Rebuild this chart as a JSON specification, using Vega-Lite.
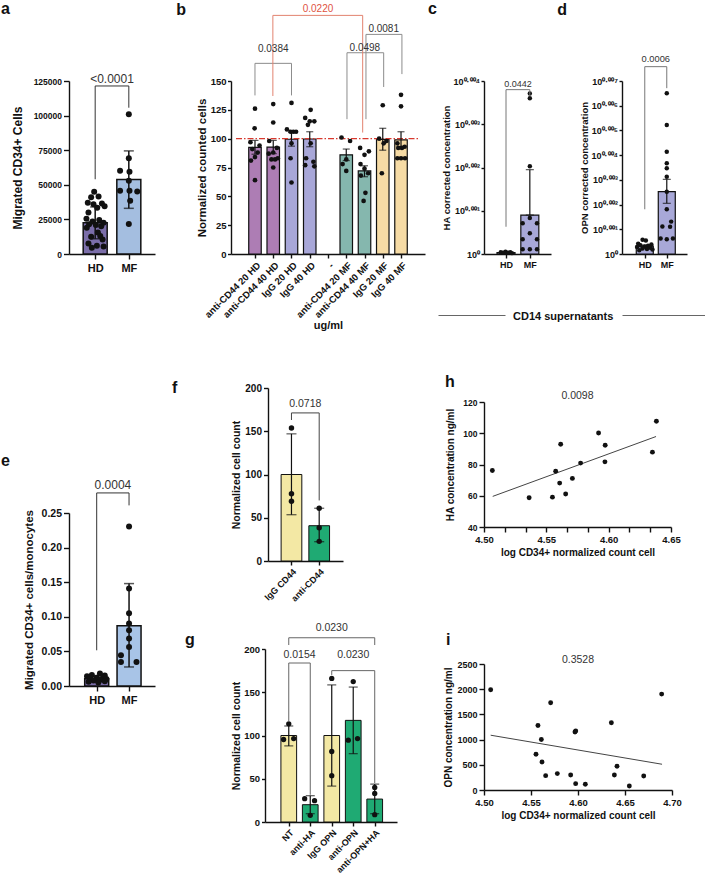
{
  "$schema": "https://vega.github.io/schema/vega-lite/v6.json",
  "padding": {"left": 1, "top": 0, "right": 0, "bottom": 0},
  "columns": 6,
  "spacing": 0,
  "align": "each",
  "bounds": "flush",
  "resolve": {"scale": {"fill": "independent"}},
  "config": {
    "view": {"stroke": null},
    "font": "Liberation Sans",
    "axis": {
      "domainColor": "#111", "domainWidth": 1.4, "tickColor": "#111", "tickWidth": 1.4, "tickSize": 4,
      "labelColor": "#111", "labelFont": "Liberation Sans", "labelFontWeight": "bold", "labelPadding": 2,
      "labelFlush": false, "labelOverlap": false,
      "titleFont": "Liberation Sans", "titleFontWeight": "bold", "titleColor": "#111", "grid": false
    },
    "title": {"font": "Liberation Sans", "fontWeight": "bold", "color": "#111"},
    "text": {"font": "Liberation Sans"}
  },
  "concat": [
    {
      "width": 86, "height": 173,
      "data": {"values": [
        {"kind": "bar", "grp": "HD", "pos": 1, "v": 22500},
        {"kind": "bar", "grp": "MF", "pos": 2, "v": 53800},
        {"kind": "err", "pos": 1, "v": 11000, "v2": 34000},
        {"kind": "err", "pos": 2, "v": 33000, "v2": 74500},
        {"kind": "pt", "pos": 0.97, "v": 45000}, {"kind": "pt", "pos": 0.88, "v": 41000}, {"kind": "pt", "pos": 1.1, "v": 41500},
        {"kind": "pt", "pos": 0.78, "v": 37000}, {"kind": "pt", "pos": 1.2, "v": 36500}, {"kind": "pt", "pos": 0.95, "v": 36000},
        {"kind": "pt", "pos": 1.28, "v": 34500}, {"kind": "pt", "pos": 1.06, "v": 33500}, {"kind": "pt", "pos": 0.8, "v": 30000},
        {"kind": "pt", "pos": 0.74, "v": 25500}, {"kind": "pt", "pos": 1.12, "v": 24500}, {"kind": "pt", "pos": 0.92, "v": 23500},
        {"kind": "pt", "pos": 1.25, "v": 22500}, {"kind": "pt", "pos": 0.82, "v": 21500}, {"kind": "pt", "pos": 1.02, "v": 21000},
        {"kind": "pt", "pos": 1.18, "v": 20000}, {"kind": "pt", "pos": 0.75, "v": 19000}, {"kind": "pt", "pos": 1.08, "v": 15500},
        {"kind": "pt", "pos": 0.88, "v": 12500}, {"kind": "pt", "pos": 1.22, "v": 10500}, {"kind": "pt", "pos": 0.8, "v": 7500},
        {"kind": "pt", "pos": 1.05, "v": 6000}, {"kind": "pt", "pos": 1.25, "v": 5500}, {"kind": "pt", "pos": 0.9, "v": 4500},
        {"kind": "pt", "pos": 1.15, "v": 13000},
        {"kind": "pt", "pos": 2, "v": 101000}, {"kind": "pt", "pos": 2, "v": 69200}, {"kind": "pt", "pos": 1.74, "v": 60100},
        {"kind": "pt", "pos": 2.02, "v": 59400}, {"kind": "pt", "pos": 1.74, "v": 45700}, {"kind": "pt", "pos": 2.02, "v": 45700},
        {"kind": "pt", "pos": 2.25, "v": 45200}, {"kind": "pt", "pos": 2, "v": 52900}, {"kind": "pt", "pos": 2.04, "v": 38500},
        {"kind": "pt", "pos": 2, "v": 21600},
        {"kind": "br", "id": "p", "k": 0, "pos": 1, "v": 54000},
        {"kind": "br", "id": "p", "k": 1, "pos": 1, "v": 121400},
        {"kind": "br", "id": "p", "k": 2, "pos": 2, "v": 121400},
        {"kind": "br", "id": "p", "k": 3, "pos": 2, "v": 105700},
        {"kind": "lbl", "pos": 1.5, "v": 123900, "txt": "<0.0001"}
      ]},
      "encoding": {
        "x": {"field": "pos", "type": "quantitative", "scale": {"domain": [0.37, 2.63], "nice": false, "zero": false},
              "axis": {"values": [1, 2], "labelExpr": "datum.value == 1 ? 'HD' : 'MF'", "title": null, "labelFontSize": 11, "tickSize": 5, "labelPadding": 3}},
        "y": {"field": "v", "type": "quantitative", "stack": null, "scale": {"domain": [0, 125000], "nice": false},
              "axis": {"values": [0, 25000, 50000, 75000, 100000, 125000], "format": "d", "title": "Migrated CD34+ Cells", "titleFontSize": 12, "titlePadding": 9, "labelFontSize": 8.5, "tickSize": 5.5}}
      },
      "layer": [
        {"transform": [{"filter": "datum.kind == 'bar'"}], "mark": {"type": "bar", "orient": "vertical", "width": 24, "stroke": "#111", "strokeWidth": 1.5},
         "encoding": {"fill": {"field": "grp", "type": "nominal", "scale": {"domain": ["HD", "MF"], "range": ["#7b6ea9", "#a4bee0"]}, "legend": null}}},
        {"transform": [{"filter": "datum.kind == 'err'"}], "mark": {"type": "errorbar", "ticks": {"size": 10, "thickness": 1.5, "color": "#111"}, "rule": {"strokeWidth": 1.5, "color": "#111"}},
         "encoding": {"y2": {"field": "v2"}}},
        {"transform": [{"filter": "datum.kind == 'pt'"}], "mark": {"type": "circle", "size": 36, "color": "#111", "opacity": 1}},
        {"transform": [{"filter": "datum.kind == 'br'"}], "mark": {"type": "line", "color": "#333", "strokeWidth": 1},
         "encoding": {"detail": {"field": "id", "type": "nominal"}, "order": {"field": "k", "type": "quantitative"}}},
        {"transform": [{"filter": "datum.kind == 'lbl'"}], "mark": {"type": "text", "fontSize": 12, "color": "#333", "baseline": "alphabetic"},
         "encoding": {"text": {"field": "txt", "type": "nominal"}}}
      ]
    },
    {"width": 76, "height": 1, "data": {"values": []}, "mark": "text",
     "title": {"text": "a", "anchor": "start", "frame": "group", "offset": 0, "dx": -154, "dy": -51.5, "baseline": "alphabetic", "fontSize": 16}},
    {
      "width": 194, "height": 173,
      "data": {"values": [
        {"kind": "bar", "grp": "aHD", "pos": 1, "v": 92.5}, {"kind": "bar", "grp": "aHD", "pos": 2, "v": 92.7},
        {"kind": "bar", "grp": "iHD", "pos": 3, "v": 99.5}, {"kind": "bar", "grp": "iHD", "pos": 4, "v": 99.7},
        {"kind": "bar", "grp": "aMF", "pos": 6, "v": 86}, {"kind": "bar", "grp": "aMF", "pos": 7, "v": 72},
        {"kind": "bar", "grp": "iMF", "pos": 8, "v": 99.3}, {"kind": "bar", "grp": "iMF", "pos": 9, "v": 99},
        {"kind": "err", "pos": 1, "v": 86.5, "v2": 98.5}, {"kind": "err", "pos": 2, "v": 87, "v2": 98.5},
        {"kind": "err", "pos": 3, "v": 93.5, "v2": 105.5}, {"kind": "err", "pos": 4, "v": 93, "v2": 106},
        {"kind": "err", "pos": 6, "v": 81, "v2": 91}, {"kind": "err", "pos": 7, "v": 67, "v2": 76.5},
        {"kind": "err", "pos": 8, "v": 90, "v2": 109}, {"kind": "err", "pos": 9, "v": 93, "v2": 106},
        {"kind": "ref", "pos": -0.04, "p2": 10.04, "v": 100},
        {"kind": "pt", "pos": 1.0, "v": 126}, {"kind": "pt", "pos": 0.98, "v": 109}, {"kind": "pt", "pos": 0.75, "v": 97},
        {"kind": "pt", "pos": 1.25, "v": 94}, {"kind": "pt", "pos": 0.85, "v": 91}, {"kind": "pt", "pos": 1.15, "v": 88},
        {"kind": "pt", "pos": 1.0, "v": 84}, {"kind": "pt", "pos": 0.78, "v": 81}, {"kind": "pt", "pos": 1.0, "v": 64},
        {"kind": "pt", "pos": 2.0, "v": 130}, {"kind": "pt", "pos": 2.0, "v": 114}, {"kind": "pt", "pos": 1.78, "v": 98},
        {"kind": "pt", "pos": 2.2, "v": 92}, {"kind": "pt", "pos": 2.0, "v": 88}, {"kind": "pt", "pos": 1.75, "v": 87},
        {"kind": "pt", "pos": 2.25, "v": 83}, {"kind": "pt", "pos": 1.9, "v": 82}, {"kind": "pt", "pos": 2.1, "v": 82},
        {"kind": "pt", "pos": 2.0, "v": 75},
        {"kind": "pt", "pos": 3.0, "v": 131}, {"kind": "pt", "pos": 2.75, "v": 108}, {"kind": "pt", "pos": 2.95, "v": 106},
        {"kind": "pt", "pos": 3.1, "v": 106}, {"kind": "pt", "pos": 3.25, "v": 106}, {"kind": "pt", "pos": 3.0, "v": 96},
        {"kind": "pt", "pos": 2.95, "v": 83}, {"kind": "pt", "pos": 3.0, "v": 62},
        {"kind": "pt", "pos": 4.05, "v": 125}, {"kind": "pt", "pos": 3.75, "v": 118}, {"kind": "pt", "pos": 4.0, "v": 115},
        {"kind": "pt", "pos": 4.25, "v": 115}, {"kind": "pt", "pos": 3.9, "v": 112}, {"kind": "pt", "pos": 4.05, "v": 96},
        {"kind": "pt", "pos": 3.8, "v": 83}, {"kind": "pt", "pos": 4.2, "v": 80}, {"kind": "pt", "pos": 3.75, "v": 77},
        {"kind": "pt", "pos": 4.25, "v": 76},
        {"kind": "pt", "pos": 5.74, "v": 101}, {"kind": "pt", "pos": 6.21, "v": 98}, {"kind": "pt", "pos": 6.0, "v": 82},
        {"kind": "pt", "pos": 5.8, "v": 78}, {"kind": "pt", "pos": 6.0, "v": 72},
        {"kind": "pt", "pos": 6.76, "v": 92}, {"kind": "pt", "pos": 7.24, "v": 89}, {"kind": "pt", "pos": 7.0, "v": 86},
        {"kind": "pt", "pos": 6.78, "v": 78}, {"kind": "pt", "pos": 7.0, "v": 74}, {"kind": "pt", "pos": 7.2, "v": 70},
        {"kind": "pt", "pos": 6.8, "v": 68}, {"kind": "pt", "pos": 7.05, "v": 53}, {"kind": "pt", "pos": 6.95, "v": 46},
        {"kind": "pt", "pos": 8.0, "v": 129}, {"kind": "pt", "pos": 7.8, "v": 100}, {"kind": "pt", "pos": 8.2, "v": 98},
        {"kind": "pt", "pos": 8.05, "v": 96}, {"kind": "pt", "pos": 7.95, "v": 70},
        {"kind": "pt", "pos": 9.0, "v": 138}, {"kind": "pt", "pos": 9.0, "v": 128}, {"kind": "pt", "pos": 8.8, "v": 96},
        {"kind": "pt", "pos": 9.2, "v": 93}, {"kind": "pt", "pos": 9.05, "v": 92}, {"kind": "pt", "pos": 8.85, "v": 92},
        {"kind": "pt", "pos": 8.8, "v": 83}, {"kind": "pt", "pos": 9.0, "v": 83}, {"kind": "pt", "pos": 9.22, "v": 83},
        {"kind": "br", "id": "q1", "k": 0, "pos": 1, "v": 137.5}, {"kind": "br", "id": "q1", "k": 1, "pos": 1, "v": 165.3},
        {"kind": "br", "id": "q1", "k": 2, "pos": 3, "v": 165.3}, {"kind": "br", "id": "q1", "k": 3, "pos": 3, "v": 137.5},
        {"kind": "br", "id": "q3", "k": 0, "pos": 6.04, "v": 116.9}, {"kind": "br", "id": "q3", "k": 1, "pos": 6.04, "v": 174.5},
        {"kind": "br", "id": "q3", "k": 2, "pos": 8.05, "v": 174.5}, {"kind": "br", "id": "q3", "k": 3, "pos": 8.05, "v": 144.8},
        {"kind": "br", "id": "q4", "k": 0, "pos": 7.08, "v": 116.9}, {"kind": "br", "id": "q4", "k": 1, "pos": 7.08, "v": 190.4},
        {"kind": "br", "id": "q4", "k": 2, "pos": 9.05, "v": 190.4}, {"kind": "br", "id": "q4", "k": 3, "pos": 9.05, "v": 156},
        {"kind": "brr", "id": "q2", "k": 0, "pos": 1.98, "v": 137}, {"kind": "brr", "id": "q2", "k": 1, "pos": 1.98, "v": 206.9},
        {"kind": "brr", "id": "q2", "k": 2, "pos": 6.9, "v": 206.9}, {"kind": "brr", "id": "q2", "k": 3, "pos": 6.9, "v": 105.3},
        {"kind": "lbl", "pos": 2, "v": 175.5, "txt": "0.0384"},
        {"kind": "lbl", "pos": 7.02, "v": 176, "txt": "0.0498"},
        {"kind": "lbl", "pos": 8.05, "v": 192.4, "txt": "0.0081"},
        {"kind": "lblr", "pos": 4.45, "v": 209.7, "txt": "0.0220"}
      ]},
      "encoding": {
        "x": {"field": "pos", "type": "quantitative", "scale": {"domain": [-0.04, 10.04], "nice": false, "zero": false},
              "axis": {"values": [1, 2, 3, 4, 5, 6, 7, 8, 9],
                       "labelExpr": "['', 'anti-CD44 20 HD', 'anti-CD44 40 HD', 'IgG 20 HD', 'IgG 40 HD', '-', 'anti-CD44 20 MF', 'anti-CD44 40 MF', 'IgG 20 MF', 'IgG 40 MF'][datum.value]",
                       "labelAngle": -45, "labelFontSize": 9.5, "title": "ug/ml", "titleFontSize": 11, "titlePadding": 1, "tickSize": 4}},
        "y": {"field": "v", "type": "quantitative", "stack": null, "scale": {"domain": [0, 150], "nice": false},
              "axis": {"values": [0, 25, 50, 75, 100, 125, 150], "title": "Normalized counted cells", "titleFontSize": 11.5, "titlePadding": 3, "labelFontSize": 9.5, "tickSize": 3.5, "labelPadding": 1.5}}
      },
      "layer": [
        {"transform": [{"filter": "datum.kind == 'bar'"}], "mark": {"type": "bar", "orient": "vertical", "width": 12.5, "stroke": "#111", "strokeWidth": 1.2},
         "encoding": {"fill": {"field": "grp", "type": "nominal", "scale": {"domain": ["aHD", "iHD", "aMF", "iMF"], "range": ["#ad7db4", "#a8a7d8", "#85b7ae", "#f6dba5"]}, "legend": null}}},
        {"transform": [{"filter": "datum.kind == 'ref'"}], "mark": {"type": "rule", "color": "#d8392e", "strokeWidth": 1.3, "strokeDash": [6, 2, 1.5, 2]},
         "encoding": {"x2": {"field": "p2"}}},
        {"transform": [{"filter": "datum.kind == 'err'"}], "mark": {"type": "errorbar", "ticks": {"size": 7, "thickness": 1.2, "color": "#111"}, "rule": {"strokeWidth": 1.2, "color": "#111"}},
         "encoding": {"y2": {"field": "v2"}}},
        {"transform": [{"filter": "datum.kind == 'pt'"}], "mark": {"type": "circle", "size": 22, "color": "#111", "opacity": 1}},
        {"transform": [{"filter": "datum.kind == 'br'"}], "mark": {"type": "line", "color": "#8c8c8c", "strokeWidth": 1},
         "encoding": {"detail": {"field": "id", "type": "nominal"}, "order": {"field": "k", "type": "quantitative"}}},
        {"transform": [{"filter": "datum.kind == 'brr'"}], "mark": {"type": "line", "color": "#e2826f", "strokeWidth": 1},
         "encoding": {"detail": {"field": "id", "type": "nominal"}, "order": {"field": "k", "type": "quantitative"}}},
        {"transform": [{"filter": "datum.kind == 'lbl'"}], "mark": {"type": "text", "fontSize": 10, "color": "#333", "baseline": "alphabetic"},
         "encoding": {"text": {"field": "txt", "type": "nominal"}}},
        {"transform": [{"filter": "datum.kind == 'lblr'"}], "mark": {"type": "text", "fontSize": 10, "color": "#e0523f", "baseline": "alphabetic"},
         "encoding": {"text": {"field": "txt", "type": "nominal"}}}
      ]
    },
    {"width": 59, "height": 1, "data": {"values": []}, "mark": "text",
     "title": {"text": "b", "anchor": "start", "frame": "group", "offset": 0, "dx": -248.7, "dy": -50, "baseline": "alphabetic", "fontSize": 16}},
    {
      "width": 67, "height": 173,
      "data": {"values": [
        {"kind": "bar", "grp": "HD", "pos": 1, "v": 0.00003},
        {"kind": "bar", "grp": "MF", "pos": 2, "v": 0.0009},
        {"kind": "err", "pos": 2, "v": 0.0009, "v2": 0.00195},
        {"kind": "pt", "pos": 0.78, "v": 0.00004}, {"kind": "pt", "pos": 0.88, "v": 0.00003}, {"kind": "pt", "pos": 0.98, "v": 0.00005},
        {"kind": "pt", "pos": 1.08, "v": 0.00003}, {"kind": "pt", "pos": 1.18, "v": 0.00004}, {"kind": "pt", "pos": 1.25, "v": 0.00002},
        {"kind": "pt", "pos": 2, "v": 0.00371}, {"kind": "pt", "pos": 2, "v": 0.0036}, {"kind": "pt", "pos": 2, "v": 0.00203},
        {"kind": "pt", "pos": 2, "v": 0.00083}, {"kind": "pt", "pos": 1.7, "v": 0.00071}, {"kind": "pt", "pos": 2.3, "v": 0.00071},
        {"kind": "pt", "pos": 2, "v": 0.00048}, {"kind": "pt", "pos": 1.7, "v": 0.00034}, {"kind": "pt", "pos": 2.3, "v": 0.00034},
        {"kind": "pt", "pos": 1.7, "v": 0.00011}, {"kind": "pt", "pos": 2, "v": 0.00011}, {"kind": "pt", "pos": 2.3, "v": 0.00011},
        {"kind": "br", "id": "c1", "k": 0, "pos": 1, "v": 0.00063}, {"kind": "br", "id": "c1", "k": 1, "pos": 1, "v": 0.0038},
        {"kind": "br", "id": "c1", "k": 2, "pos": 2, "v": 0.0038}, {"kind": "br", "id": "c1", "k": 3, "pos": 2, "v": 0.00365},
        {"kind": "lbl", "pos": 1.5, "v": 0.00387, "txt": "0.0442"}
      ]},
      "encoding": {
        "x": {"field": "pos", "type": "quantitative", "scale": {"domain": [0.286, 2.679], "nice": false, "zero": false},
              "axis": {"values": [1, 2], "labelExpr": "datum.value == 1 ? 'HD' : 'MF'", "title": null, "labelFontSize": 9, "tickSize": 4}},
        "y": {"field": "v", "type": "quantitative", "stack": null, "scale": {"domain": [0, 0.004], "nice": false},
              "axis": {"values": [0, 0.001, 0.002, 0.003, 0.004],
                       "labelExpr": "datum.value == 0 ? '10⁰' : '10⁰·⁰⁰' + ['⁰','¹','²','³','⁴','⁵','⁶','⁷','⁸','⁹'][round(datum.value * 1000)]",
                       "title": "HA corrected concentration", "titleFontSize": 9.5, "titlePadding": 2, "labelFontSize": 9, "tickSize": 3, "labelPadding": 1.5}}
      },
      "layer": [
        {"transform": [{"filter": "datum.kind == 'bar'"}], "mark": {"type": "bar", "orient": "vertical", "width": 18, "stroke": "#111", "strokeWidth": 1.2},
         "encoding": {"fill": {"field": "grp", "type": "nominal", "scale": {"domain": ["HD", "MF"], "range": ["#a8a8d8", "#a8a8d8"]}, "legend": null}}},
        {"transform": [{"filter": "datum.kind == 'err'"}], "mark": {"type": "errorbar", "ticks": {"size": 8, "thickness": 1.2, "color": "#111"}, "rule": {"strokeWidth": 1.2, "color": "#111"}},
         "encoding": {"y2": {"field": "v2"}}},
        {"transform": [{"filter": "datum.kind == 'pt'"}], "mark": {"type": "circle", "size": 20, "color": "#111", "opacity": 1}},
        {"transform": [{"filter": "datum.kind == 'br'"}], "mark": {"type": "line", "color": "#777", "strokeWidth": 1},
         "encoding": {"detail": {"field": "id", "type": "nominal"}, "order": {"field": "k", "type": "quantitative"}}},
        {"transform": [{"filter": "datum.kind == 'lbl'"}], "mark": {"type": "text", "fontSize": 9, "color": "#333", "baseline": "alphabetic"},
         "encoding": {"text": {"field": "txt", "type": "nominal"}}}
      ]
    },
    {
      "width": 65, "height": 173,
      "data": {"values": [
        {"kind": "bar", "grp": "HD", "pos": 1, "v": 0.00032},
        {"kind": "bar", "grp": "MF", "pos": 2, "v": 0.00252},
        {"kind": "err", "pos": 1, "v": 0.00028, "v2": 0.00036},
        {"kind": "err", "pos": 2, "v": 0.00205, "v2": 0.00302},
        {"kind": "pt", "pos": 0.9, "v": 0.00058}, {"kind": "pt", "pos": 1.05, "v": 0.00055}, {"kind": "pt", "pos": 0.7, "v": 0.00042},
        {"kind": "pt", "pos": 1.3, "v": 0.00038}, {"kind": "pt", "pos": 0.8, "v": 0.00035}, {"kind": "pt", "pos": 1.15, "v": 0.00033},
        {"kind": "pt", "pos": 1.0, "v": 0.0003}, {"kind": "pt", "pos": 0.65, "v": 0.00028}, {"kind": "pt", "pos": 1.25, "v": 0.00025},
        {"kind": "pt", "pos": 0.9, "v": 0.00022}, {"kind": "pt", "pos": 1.1, "v": 0.0002}, {"kind": "pt", "pos": 1.35, "v": 0.00018},
        {"kind": "pt", "pos": 0.75, "v": 0.00015},
        {"kind": "pt", "pos": 2, "v": 0.0065}, {"kind": "pt", "pos": 2, "v": 0.00522}, {"kind": "pt", "pos": 2, "v": 0.00414},
        {"kind": "pt", "pos": 2, "v": 0.00367}, {"kind": "pt", "pos": 2, "v": 0.00347}, {"kind": "pt", "pos": 2, "v": 0.00313},
        {"kind": "pt", "pos": 2, "v": 0.00252}, {"kind": "pt", "pos": 2, "v": 0.00181}, {"kind": "pt", "pos": 2.2, "v": 0.00131},
        {"kind": "pt", "pos": 1.8, "v": 0.00111}, {"kind": "pt", "pos": 2.15, "v": 0.0011}, {"kind": "pt", "pos": 1.72, "v": 0.00063},
        {"kind": "pt", "pos": 2.0, "v": 0.0006}, {"kind": "pt", "pos": 2.28, "v": 0.00063},
        {"kind": "br", "id": "d1", "k": 0, "pos": 1, "v": 0.00181}, {"kind": "br", "id": "d1", "k": 1, "pos": 1, "v": 0.00758},
        {"kind": "br", "id": "d1", "k": 2, "pos": 2, "v": 0.00758}, {"kind": "br", "id": "d1", "k": 3, "pos": 2, "v": 0.00671},
        {"kind": "lbl", "pos": 1.5, "v": 0.00775, "txt": "0.0006"}
      ]},
      "encoding": {
        "x": {"field": "pos", "type": "quantitative", "scale": {"domain": [0.192, 2.692], "nice": false, "zero": false},
              "axis": {"values": [1, 2], "labelExpr": "datum.value == 1 ? 'HD' : 'MF'", "title": null, "labelFontSize": 9, "tickSize": 4}},
        "y": {"field": "v", "type": "quantitative", "stack": null, "scale": {"domain": [0, 0.007], "nice": false},
              "axis": {"values": [0, 0.001, 0.002, 0.003, 0.004, 0.005, 0.006, 0.007],
                       "labelExpr": "datum.value == 0 ? '10⁰' : '10⁰·⁰⁰' + ['⁰','¹','²','³','⁴','⁵','⁶','⁷','⁸','⁹'][round(datum.value * 1000)]",
                       "title": "OPN corrected concentration", "titleFontSize": 9.5, "titlePadding": 2, "labelFontSize": 9, "tickSize": 3, "labelPadding": 1.5}}
      },
      "layer": [
        {"transform": [{"filter": "datum.kind == 'bar'"}], "mark": {"type": "bar", "orient": "vertical", "width": 17, "stroke": "#111", "strokeWidth": 1.2},
         "encoding": {"fill": {"field": "grp", "type": "nominal", "scale": {"domain": ["HD", "MF"], "range": ["#a8a8d8", "#a8a8d8"]}, "legend": null}}},
        {"transform": [{"filter": "datum.kind == 'err'"}], "mark": {"type": "errorbar", "ticks": {"size": 8, "thickness": 1.2, "color": "#111"}, "rule": {"strokeWidth": 1.2, "color": "#111"}},
         "encoding": {"y2": {"field": "v2"}}},
        {"transform": [{"filter": "datum.kind == 'pt'"}], "mark": {"type": "circle", "size": 20, "color": "#111", "opacity": 1}},
        {"transform": [{"filter": "datum.kind == 'br'"}], "mark": {"type": "line", "color": "#777", "strokeWidth": 1},
         "encoding": {"detail": {"field": "id", "type": "nominal"}, "order": {"field": "k", "type": "quantitative"}}},
        {"transform": [{"filter": "datum.kind == 'lbl'"}], "mark": {"type": "text", "fontSize": 9.3, "color": "#333", "baseline": "alphabetic"},
         "encoding": {"text": {"field": "txt", "type": "nominal"}}}
      ]
    },

    {"width": 1, "height": 134, "data": {"values": []}, "mark": "text",
     "title": {"text": "e", "anchor": "start", "frame": "group", "offset": 0, "dx": -68, "dy": 227.5, "baseline": "alphabetic", "fontSize": 16}},
    {"width": 1, "height": 1, "data": {"values": []}, "mark": "text",
     "title": {"text": "d", "anchor": "start", "frame": "group", "offset": 0, "dx": 402.3, "dy": -223, "baseline": "alphabetic", "fontSize": 16}},
    {"width": 1, "height": 1, "data": {"values": []}, "mark": "text",
     "title": {"text": "c", "anchor": "start", "frame": "group", "offset": 0, "dx": 197, "dy": -224.5, "baseline": "alphabetic", "fontSize": 16}},
    {"width": 59, "height": 1, "data": {"values": [{"v": 0}, {"v": 1}]}, "mark": {"type": "text", "text": ""},
     "encoding": {"x": {"field": "v", "type": "quantitative", "scale": {"domain": [0, 1], "range": [13, 80], "nice": false},
                        "axis": {"orient": "bottom", "offset": 60, "ticks": false, "labels": false, "title": null, "domainColor": "#666", "domainWidth": 1.2}}}},
    {"width": 1, "height": 1, "data": {"values": []}, "mark": "text",
     "title": {"text": "CD14 supernatants", "anchor": "start", "frame": "group", "offset": 0, "dx": 29, "dy": 76.5, "baseline": "alphabetic", "fontSize": 11}},
    {"width": 65, "height": 1, "data": {"values": [{"v": 0}, {"v": 1}]}, "mark": {"type": "text", "text": ""},
     "encoding": {"x": {"field": "v", "type": "quantitative", "scale": {"domain": [0, 1], "range": [0, 83], "nice": false},
                        "axis": {"orient": "bottom", "offset": 60, "ticks": false, "labels": false, "title": null, "domainColor": "#666", "domainWidth": 1.2}}}},

    {
      "width": 86, "height": 261,
      "data": {"values": [
        {"kind": "bar", "grp": "HD", "pos": 1, "v": 0.0106},
        {"kind": "bar", "grp": "MF", "pos": 2, "v": 0.087},
        {"kind": "err", "pos": 1, "v": 0.006, "v2": 0.015},
        {"kind": "err", "pos": 2, "v": 0.0275, "v2": 0.148},
        {"kind": "pt", "pos": 1.1, "v": 0.018}, {"kind": "pt", "pos": 0.85, "v": 0.016}, {"kind": "pt", "pos": 1.25, "v": 0.015},
        {"kind": "pt", "pos": 0.7, "v": 0.014}, {"kind": "pt", "pos": 1.2, "v": 0.013}, {"kind": "pt", "pos": 1.0, "v": 0.012},
        {"kind": "pt", "pos": 0.8, "v": 0.011}, {"kind": "pt", "pos": 1.3, "v": 0.01}, {"kind": "pt", "pos": 1.1, "v": 0.009},
        {"kind": "pt", "pos": 0.9, "v": 0.008}, {"kind": "pt", "pos": 1.25, "v": 0.007}, {"kind": "pt", "pos": 0.75, "v": 0.006},
        {"kind": "pt", "pos": 1.05, "v": 0.005},
        {"kind": "pt", "pos": 2, "v": 0.2305}, {"kind": "pt", "pos": 2, "v": 0.141}, {"kind": "pt", "pos": 2, "v": 0.105},
        {"kind": "pt", "pos": 2, "v": 0.0903}, {"kind": "pt", "pos": 2, "v": 0.0807}, {"kind": "pt", "pos": 2, "v": 0.0686},
        {"kind": "pt", "pos": 2, "v": 0.0565}, {"kind": "pt", "pos": 1.75, "v": 0.0444}, {"kind": "pt", "pos": 1.75, "v": 0.0348},
        {"kind": "pt", "pos": 2.23, "v": 0.0348},
        {"kind": "br", "id": "e1", "k": 0, "pos": 1, "v": 0.0516}, {"kind": "br", "id": "e1", "k": 1, "pos": 1, "v": 0.279},
        {"kind": "br", "id": "e1", "k": 2, "pos": 2, "v": 0.279}, {"kind": "br", "id": "e1", "k": 3, "pos": 2, "v": 0.261},
        {"kind": "lbl", "pos": 1.5, "v": 0.285, "txt": "0.0004"}
      ]},
      "encoding": {
        "x": {"field": "pos", "type": "quantitative", "scale": {"domain": [0.298, 2.648], "nice": false, "zero": false},
              "axis": {"values": [1, 2], "labelExpr": "datum.value == 1 ? 'HD' : 'MF'", "title": null, "labelFontSize": 11, "tickSize": 5, "labelPadding": 3, "offset": 37}},
        "y": {"field": "v", "type": "quantitative", "stack": null, "scale": {"domain": [0, 0.25], "range": [298, 125], "nice": false},
              "axis": {"values": [0, 0.05, 0.1, 0.15, 0.2, 0.25], "format": ".2f", "title": "Migrated CD34+ cells/monocytes", "titleFontSize": 11.5, "titlePadding": 7, "labelFontSize": 10.5, "tickSize": 5.5}}
      },
      "layer": [
        {"transform": [{"filter": "datum.kind == 'bar'"}], "mark": {"type": "bar", "orient": "vertical", "width": 24, "stroke": "#111", "strokeWidth": 1.5},
         "encoding": {"fill": {"field": "grp", "type": "nominal", "scale": {"domain": ["HD", "MF"], "range": ["#7b6ea9", "#a8c4e7"]}, "legend": null}}},
        {"transform": [{"filter": "datum.kind == 'err'"}], "mark": {"type": "errorbar", "ticks": {"size": 10, "thickness": 1.5, "color": "#111"}, "rule": {"strokeWidth": 1.5, "color": "#111"}},
         "encoding": {"y2": {"field": "v2"}}},
        {"transform": [{"filter": "datum.kind == 'pt'"}], "mark": {"type": "circle", "size": 36, "color": "#111", "opacity": 1}},
        {"transform": [{"filter": "datum.kind == 'br'"}], "mark": {"type": "line", "color": "#333", "strokeWidth": 1},
         "encoding": {"detail": {"field": "id", "type": "nominal"}, "order": {"field": "k", "type": "quantitative"}}},
        {"transform": [{"filter": "datum.kind == 'lbl'"}], "mark": {"type": "text", "fontSize": 12, "color": "#333", "baseline": "alphabetic"},
         "encoding": {"text": {"field": "txt", "type": "nominal"}}}
      ]
    },
    {"width": 1, "height": 1, "data": {"values": []}, "mark": "text",
     "title": {"text": "f", "anchor": "start", "frame": "group", "offset": 0, "dx": 17, "dy": 21, "baseline": "alphabetic", "fontSize": 16}},
    {
      "width": 112, "height": 173,
      "data": {"values": [
        {"kind": "bar", "grp": "IgG", "pos": 1, "v": 100},
        {"kind": "bar", "grp": "anti", "pos": 2, "v": 40.8},
        {"kind": "err", "pos": 1, "v": 53.5, "v2": 147},
        {"kind": "err", "pos": 2, "v": 22.3, "v2": 61},
        {"kind": "pt", "pos": 1, "v": 153.8}, {"kind": "pt", "pos": 1, "v": 77.7}, {"kind": "pt", "pos": 1, "v": 69.2},
        {"kind": "pt", "pos": 2, "v": 61}, {"kind": "pt", "pos": 2, "v": 38.5}, {"kind": "pt", "pos": 2, "v": 22.7},
        {"kind": "br", "id": "f1", "k": 0, "pos": 1, "v": 163}, {"kind": "br", "id": "f1", "k": 1, "pos": 1, "v": 171.2},
        {"kind": "br", "id": "f1", "k": 2, "pos": 2, "v": 171.2}, {"kind": "br", "id": "f1", "k": 3, "pos": 2, "v": 70},
        {"kind": "lbl", "pos": 1.5, "v": 177.7, "txt": "0.0718"}
      ]},
      "encoding": {
        "x": {"field": "pos", "type": "quantitative", "scale": {"domain": [0.334, 2.678], "range": [37, 112], "nice": false, "zero": false},
              "axis": {"values": [1, 2], "labelExpr": "datum.value == 1 ? 'IgG CD44' : 'anti-CD44'", "labelAngle": -45, "title": null, "labelFontSize": 9, "tickSize": 4}},
        "y": {"field": "v", "type": "quantitative", "stack": null, "scale": {"domain": [0, 200], "nice": false},
              "axis": {"values": [0, 50, 100, 150, 200], "title": "Normalized cell count", "titleFontSize": 10.5, "titlePadding": 3, "labelFontSize": 10, "tickSize": 4.5, "offset": -37}}
      },
      "layer": [
        {"transform": [{"filter": "datum.kind == 'bar'"}], "mark": {"type": "bar", "orient": "vertical", "width": 20.7, "stroke": "#111", "strokeWidth": 1},
         "encoding": {"fill": {"field": "grp", "type": "nominal", "scale": {"domain": ["IgG", "anti"], "range": ["#f3e8a4", "#1faa73"]}, "legend": null}}},
        {"transform": [{"filter": "datum.kind == 'err'"}], "mark": {"type": "errorbar", "ticks": {"size": 10, "thickness": 1.2, "color": "#111"}, "rule": {"strokeWidth": 1.2, "color": "#111"}},
         "encoding": {"y2": {"field": "v2"}}},
        {"transform": [{"filter": "datum.kind == 'pt'"}], "mark": {"type": "circle", "size": 30, "color": "#111", "opacity": 1}},
        {"transform": [{"filter": "datum.kind == 'br'"}], "mark": {"type": "line", "color": "#444", "strokeWidth": 1},
         "encoding": {"detail": {"field": "id", "type": "nominal"}, "order": {"field": "k", "type": "quantitative"}}},
        {"transform": [{"filter": "datum.kind == 'lbl'"}], "mark": {"type": "text", "fontSize": 10.5, "color": "#333", "baseline": "alphabetic"},
         "encoding": {"text": {"field": "txt", "type": "nominal"}}}
      ]
    },
    {"width": 1, "height": 1, "data": {"values": []}, "mark": "text",
     "title": {"text": "h", "anchor": "start", "frame": "group", "offset": 0, "dx": 20, "dy": 15, "baseline": "alphabetic", "fontSize": 16}},
    {
      "width": 138, "height": 139,
      "data": {"values": [
        {"kind": "pt", "lx": 4.5067, "c": 76.2}, {"kind": "pt", "lx": 4.5362, "c": 58.7}, {"kind": "pt", "lx": 4.5549, "c": 59.1},
        {"kind": "pt", "lx": 4.5575, "c": 75.7}, {"kind": "pt", "lx": 4.5607, "c": 68.1}, {"kind": "pt", "lx": 4.5615, "c": 93.0},
        {"kind": "pt", "lx": 4.5655, "c": 61.1}, {"kind": "pt", "lx": 4.5709, "c": 71.1}, {"kind": "pt", "lx": 4.5775, "c": 80.9},
        {"kind": "pt", "lx": 4.5919, "c": 100.2}, {"kind": "pt", "lx": 4.5972, "c": 92.3}, {"kind": "pt", "lx": 4.597, "c": 81.7},
        {"kind": "pt", "lx": 4.6351, "c": 87.9}, {"kind": "pt", "lx": 4.6383, "c": 107.7},
        {"kind": "fit", "lx": 4.507, "c": 59.6}, {"kind": "fit", "lx": 4.638, "c": 97.9},
        {"kind": "lbl", "lx": 4.575, "c": 123.6, "txt": "0.0098"}
      ]},
      "encoding": {
        "x": {"field": "lx", "type": "quantitative", "scale": {"domain": [4.5, 4.65], "range": [0, 187], "nice": false, "zero": false},
              "axis": {"values": [4.5, 4.5167, 4.5333, 4.55, 4.5667, 4.5833, 4.6, 4.6167, 4.6333, 4.65],
                       "labelExpr": "abs(datum.value * 20 - round(datum.value * 20)) < 0.01 ? format(datum.value, '.2f') : ''",
                       "title": "log CD34+ normalized count cell", "titleFontSize": 10, "titlePadding": 4, "labelFontSize": 9.5, "tickSize": 5}},
        "y": {"field": "c", "type": "quantitative", "scale": {"domain": [40, 120], "range": [139, 14], "nice": false, "zero": false},
              "axis": {"values": [40, 60, 80, 100, 120], "title": "HA concentration ng/ml", "titleFontSize": 10, "titlePadding": 7, "labelFontSize": 8.5, "tickSize": 5}}
      },
      "layer": [
        {"transform": [{"filter": "datum.kind == 'fit'"}], "mark": {"type": "line", "color": "#444", "strokeWidth": 1}},
        {"transform": [{"filter": "datum.kind == 'pt'"}], "mark": {"type": "circle", "size": 24, "color": "#111", "opacity": 1}},
        {"transform": [{"filter": "datum.kind == 'lbl'"}], "mark": {"type": "text", "fontSize": 10.5, "color": "#333", "baseline": "middle"},
         "encoding": {"text": {"field": "txt", "type": "nominal"}}}
      ]
    },
    {"width": 1, "height": 1, "data": {"values": []}, "mark": "text"},

    {"width": 1, "height": 1, "data": {"values": []}, "mark": "text"},
    {"width": 1, "height": 1, "data": {"values": []}, "mark": "text",
     "title": {"text": "g", "anchor": "start", "frame": "group", "offset": 0, "dx": 30, "dy": 12, "baseline": "alphabetic", "fontSize": 16}},
    {
      "width": 166, "height": 173,
      "data": {"values": [
        {"kind": "bar", "grp": "ctl", "pos": 1, "v": 100},
        {"kind": "bar", "grp": "blk", "pos": 2, "v": 20},
        {"kind": "bar", "grp": "ctl", "pos": 3, "v": 100},
        {"kind": "bar", "grp": "blk", "pos": 4, "v": 117.5},
        {"kind": "bar", "grp": "blk", "pos": 5, "v": 26.5},
        {"kind": "err", "pos": 1, "v": 88, "v2": 111}, {"kind": "err", "pos": 2, "v": 9.6, "v2": 30.4},
        {"kind": "err", "pos": 3, "v": 41.5, "v2": 158.5}, {"kind": "err", "pos": 4, "v": 79, "v2": 156},
        {"kind": "err", "pos": 5, "v": 9.6, "v2": 43.8},
        {"kind": "pt", "pos": 1, "v": 113.5}, {"kind": "pt", "pos": 0.76, "v": 95.4}, {"kind": "pt", "pos": 1.23, "v": 96.5},
        {"kind": "pt", "pos": 1.74, "v": 27}, {"kind": "pt", "pos": 2.2, "v": 24.6}, {"kind": "pt", "pos": 2, "v": 7.7},
        {"kind": "pt", "pos": 3, "v": 166}, {"kind": "pt", "pos": 3, "v": 81.5}, {"kind": "pt", "pos": 3, "v": 53.5},
        {"kind": "pt", "pos": 4, "v": 162.3}, {"kind": "pt", "pos": 3.77, "v": 94.6}, {"kind": "pt", "pos": 4.2, "v": 96.5},
        {"kind": "pt", "pos": 5, "v": 40}, {"kind": "pt", "pos": 5, "v": 33}, {"kind": "pt", "pos": 5, "v": 8.5},
        {"kind": "br", "id": "r1", "k": 0, "pos": 1, "v": 204.6}, {"kind": "br", "id": "r1", "k": 1, "pos": 1, "v": 213},
        {"kind": "br", "id": "r1", "k": 2, "pos": 5, "v": 213}, {"kind": "br", "id": "r1", "k": 3, "pos": 5, "v": 204.6},
        {"kind": "br", "id": "r2", "k": 0, "pos": 1, "v": 116.2}, {"kind": "br", "id": "r2", "k": 1, "pos": 1, "v": 183.8},
        {"kind": "br", "id": "r2", "k": 2, "pos": 2, "v": 183.8}, {"kind": "br", "id": "r2", "k": 3, "pos": 2, "v": 31.5},
        {"kind": "br", "id": "r3", "k": 0, "pos": 3, "v": 170}, {"kind": "br", "id": "r3", "k": 1, "pos": 3, "v": 175},
        {"kind": "br", "id": "r3", "k": 2, "pos": 5, "v": 175}, {"kind": "br", "id": "r3", "k": 3, "pos": 5, "v": 45},
        {"kind": "lbl", "pos": 3, "v": 220.3, "txt": "0.0230"},
        {"kind": "lbl", "pos": 1.5, "v": 189.6, "txt": "0.0154"},
        {"kind": "lbl", "pos": 4, "v": 189.6, "txt": "0.0230"}
      ]},
      "encoding": {
        "x": {"field": "pos", "type": "quantitative", "scale": {"domain": [0.127, 5.804], "range": [34, 166], "nice": false, "zero": false},
              "axis": {"values": [1, 2, 3, 4, 5], "labelExpr": "['', 'NT', 'anti-HA', 'IgG OPN', 'anti-OPN', 'anti-OPN+HA'][datum.value]", "labelAngle": -45, "title": null, "labelFontSize": 9, "tickSize": 4}},
        "y": {"field": "v", "type": "quantitative", "stack": null, "scale": {"domain": [0, 200], "nice": false},
              "axis": {"values": [0, 50, 100, 150, 200], "title": "Normalized cell count", "titleFontSize": 10.5, "titlePadding": 2, "labelFontSize": 9.5, "tickSize": 3.5, "offset": -34}}
      },
      "layer": [
        {"transform": [{"filter": "datum.kind == 'bar'"}], "mark": {"type": "bar", "orient": "vertical", "width": 15.7, "stroke": "#111", "strokeWidth": 1},
         "encoding": {"fill": {"field": "grp", "type": "nominal", "scale": {"domain": ["ctl", "blk"], "range": ["#f3e8a4", "#1faa73"]}, "legend": null}}},
        {"transform": [{"filter": "datum.kind == 'err'"}], "mark": {"type": "errorbar", "ticks": {"size": 9, "thickness": 1.2, "color": "#111"}, "rule": {"strokeWidth": 1.2, "color": "#111"}},
         "encoding": {"y2": {"field": "v2"}}},
        {"transform": [{"filter": "datum.kind == 'pt'"}], "mark": {"type": "circle", "size": 28, "color": "#111", "opacity": 1}},
        {"transform": [{"filter": "datum.kind == 'br'"}], "mark": {"type": "line", "color": "#666", "strokeWidth": 1},
         "encoding": {"detail": {"field": "id", "type": "nominal"}, "order": {"field": "k", "type": "quantitative"}}},
        {"transform": [{"filter": "datum.kind == 'lbl'"}], "mark": {"type": "text", "fontSize": 10.5, "color": "#333", "baseline": "alphabetic"},
         "encoding": {"text": {"field": "txt", "type": "nominal"}}}
      ]
    },
    {"width": 1, "height": 1, "data": {"values": []}, "mark": "text",
     "title": {"text": "i", "anchor": "start", "frame": "group", "offset": 0, "dx": 21, "dy": 12, "baseline": "alphabetic", "fontSize": 16}},
    {
      "width": 138, "height": 141,
      "data": {"values": [
        {"kind": "pt", "lx": 4.5071, "c": 1989}, {"kind": "pt", "lx": 4.5574, "c": 1280}, {"kind": "pt", "lx": 4.561, "c": 1001},
        {"kind": "pt", "lx": 4.5553, "c": 710}, {"kind": "pt", "lx": 4.5617, "c": 557}, {"kind": "pt", "lx": 4.5656, "c": 285},
        {"kind": "pt", "lx": 4.5709, "c": 1731}, {"kind": "pt", "lx": 4.578, "c": 325}, {"kind": "pt", "lx": 4.5922, "c": 298},
        {"kind": "pt", "lx": 4.5968, "c": 1150}, {"kind": "pt", "lx": 4.5976, "c": 1170}, {"kind": "pt", "lx": 4.5975, "c": 126},
        {"kind": "pt", "lx": 4.6078, "c": 113}, {"kind": "pt", "lx": 4.6355, "c": 1333}, {"kind": "pt", "lx": 4.6387, "c": 298},
        {"kind": "pt", "lx": 4.6415, "c": 471}, {"kind": "pt", "lx": 4.6546, "c": 80}, {"kind": "pt", "lx": 4.6699, "c": 279},
        {"kind": "pt", "lx": 4.689, "c": 1903},
        {"kind": "fit", "lx": 4.5071, "c": 1087}, {"kind": "fit", "lx": 4.6894, "c": 511},
        {"kind": "lbl", "lx": 4.6, "c": 2572, "txt": "0.3528"}
      ]},
      "encoding": {
        "x": {"field": "lx", "type": "quantitative", "scale": {"domain": [4.5, 4.7], "range": [0, 188], "nice": false, "zero": false},
              "axis": {"values": [4.5, 4.55, 4.6, 4.65, 4.7], "format": ".2f", "title": "log CD34+ normalized count cell", "titleFontSize": 10, "titlePadding": 4, "labelFontSize": 9.5, "tickSize": 5}},
        "y": {"field": "c", "type": "quantitative", "scale": {"domain": [0, 2500], "range": [141, 15], "nice": false},
              "axis": {"values": [0, 500, 1000, 1500, 2000, 2500], "format": "d", "title": "OPN concentration ng/ml", "titleFontSize": 10, "titlePadding": 3, "labelFontSize": 9, "tickSize": 5}}
      },
      "layer": [
        {"transform": [{"filter": "datum.kind == 'fit'"}], "mark": {"type": "line", "color": "#444", "strokeWidth": 1}},
        {"transform": [{"filter": "datum.kind == 'pt'"}], "mark": {"type": "circle", "size": 24, "color": "#111", "opacity": 1}},
        {"transform": [{"filter": "datum.kind == 'lbl'"}], "mark": {"type": "text", "fontSize": 10.5, "color": "#333", "baseline": "middle"},
         "encoding": {"text": {"field": "txt", "type": "nominal"}}}
      ]
    },
    {"width": 1, "height": 1, "data": {"values": []}, "mark": "text"}
  ]
}
